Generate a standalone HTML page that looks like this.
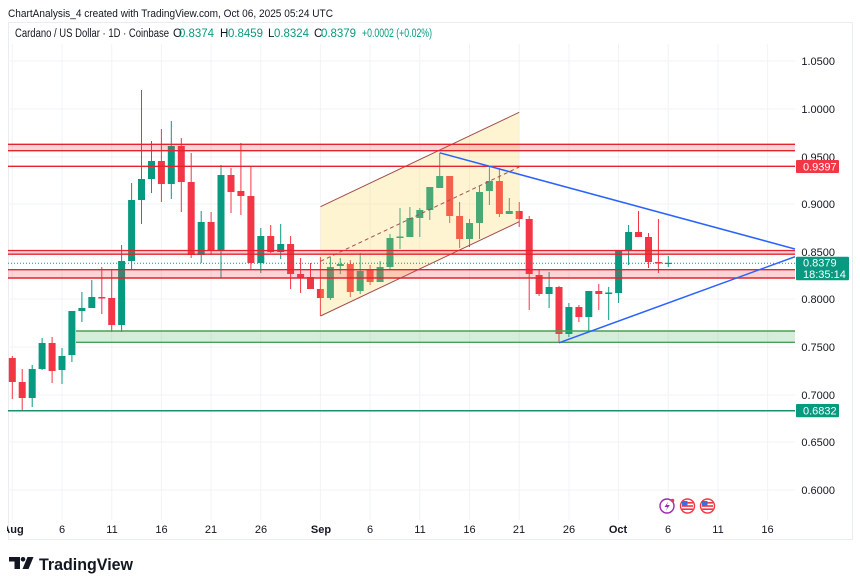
<!DOCTYPE html>
<html><head><meta charset="utf-8"><style>
html,body{margin:0;padding:0;background:#fff;}
svg{display:block;font-family:"Liberation Sans",Arial,sans-serif;}
.g path{stroke:#089981;stroke-width:1}
.g rect{fill:#089981}
.r path{stroke:#f23645;stroke-width:1}
.r rect{fill:#f23645}
.ax{font-size:11px;fill:#131722}
.tm{font-size:11px;fill:#131722;text-anchor:middle}
.tb{font-size:11px;fill:#131722;text-anchor:middle;font-weight:bold}
.h2{font-size:11.5px;fill:#131722}
.hv{font-size:11.5px;fill:#089981}
</style></head><body>
<svg width="860" height="587" viewBox="0 0 860 587" xmlns="http://www.w3.org/2000/svg">
<rect width="860" height="587" fill="#fff"/>
<defs><clipPath id="pane"><rect x="8" y="22" width="787" height="517"/></clipPath>
<clipPath id="tclip"><rect x="7" y="515" width="790" height="25"/></clipPath></defs>

<!-- header -->
<text x="8" y="17" font-size="11" fill="#131722" textLength="325" lengthAdjust="spacingAndGlyphs">ChartAnalysis_4 created with TradingView.com, Oct 06, 2025 05:24 UTC</text>
<rect x="8.5" y="22.5" width="844" height="517" fill="none" stroke="#e9ecf1" stroke-width="1"/>

<!-- grid -->
<g stroke="#f1f3f6" stroke-width="1">
<path d="M8 61H795M8 109H795M8 157H795M8 204H795M8 252H795M8 299H795M8 347H795M8 395H795M8 442H795M8 490H795"/>
<path d="M12.3 44V520M62 44V520M111.7 44V520M161.4 44V520M211.1 44V520M260.7 44V520M320.4 44V520M370.1 44V520M419.8 44V520M469.5 44V520M519.2 44V520M568.9 44V520M618.5 44V520M668.2 44V520M717.9 44V520M767.6 44V520"/>
</g>

<text class="h2" x="15" y="37" textLength="154" lengthAdjust="spacingAndGlyphs">Cardano / US Dollar · 1D · Coinbase</text>
<text class="h2" x="173" y="37">O</text>
<text class="hv" x="179" y="37" textLength="35" lengthAdjust="spacingAndGlyphs">0.8374</text>
<text class="h2" x="220" y="37">H</text>
<text class="hv" x="228" y="37" textLength="35" lengthAdjust="spacingAndGlyphs">0.8459</text>
<text class="h2" x="268" y="37">L</text>
<text class="hv" x="274" y="37" textLength="35" lengthAdjust="spacingAndGlyphs">0.8324</text>
<text class="h2" x="314" y="37">C</text>
<text class="hv" x="321" y="37" textLength="35" lengthAdjust="spacingAndGlyphs">0.8379</text>
<text class="hv" x="362" y="37" textLength="70" lengthAdjust="spacingAndGlyphs">+0.0002 (+0.02%)</text>

<g clip-path="url(#pane)">
<!-- candles -->
<g class="r"><path d="M12.3 356V399"/><rect x="8.8" y="358" width="7" height="24"/></g>
<g class="r"><path d="M22.2 369V410"/><rect x="18.7" y="382" width="7" height="16"/></g>
<g class="g"><path d="M32.2 365V407"/><rect x="28.7" y="369" width="7" height="29"/></g>
<g class="g"><path d="M42.1 338V370"/><rect x="38.6" y="343" width="7" height="26"/></g>
<g class="r"><path d="M52.1 337V383"/><rect x="48.6" y="343" width="7" height="28"/></g>
<g class="g"><path d="M62 348V384"/><rect x="58.5" y="356" width="7" height="14"/></g>
<g class="g"><path d="M71.9 311V362"/><rect x="68.4" y="311" width="7" height="44"/></g>
<g class="g"><path d="M81.9 292V322"/><rect x="78.4" y="308" width="7" height="3"/></g>
<g class="g"><path d="M91.8 280V308"/><rect x="88.3" y="297" width="7" height="11"/></g>
<g class="r"><path d="M101.8 267V314"/><rect x="98.3" y="297" width="7" height="1.5"/></g>
<g class="r"><path d="M111.7 269V332"/><rect x="108.2" y="298" width="7" height="27"/></g>
<g class="g"><path d="M121.6 245V332"/><rect x="118.1" y="261" width="7" height="64"/></g>
<g class="g"><path d="M131.6 183V269"/><rect x="128.1" y="200" width="7" height="61"/></g>
<g class="g"><path d="M141.5 90V224"/><rect x="138" y="179" width="7" height="21"/></g>
<g class="g"><path d="M151.5 141V193"/><rect x="148" y="161" width="7" height="18"/></g>
<g class="r"><path d="M161.4 129V202"/><rect x="157.9" y="161" width="7" height="23"/></g>
<g class="g"><path d="M171.3 121V199"/><rect x="167.8" y="146" width="7" height="38"/></g>
<g class="r"><path d="M181.3 138V212"/><rect x="177.8" y="146" width="7" height="36"/></g>
<g class="r"><path d="M191.2 153V258"/><rect x="187.7" y="182" width="7" height="73"/></g>
<g class="g"><path d="M201.2 211V263"/><rect x="197.7" y="222" width="7" height="33"/></g>
<g class="r"><path d="M211.1 212V255"/><rect x="207.6" y="222" width="7" height="28"/></g>
<g class="g"><path d="M221 165V278"/><rect x="217.5" y="175" width="7" height="75"/></g>
<g class="r"><path d="M231 168V213"/><rect x="227.5" y="175" width="7" height="17"/></g>
<g class="r"><path d="M240.9 143V215"/><rect x="237.4" y="191" width="7" height="5"/></g>
<g class="r"><path d="M250.9 167V270"/><rect x="247.4" y="196" width="7" height="67"/></g>
<g class="g"><path d="M260.8 228V273"/><rect x="257.3" y="236" width="7" height="27"/></g>
<g class="r"><path d="M270.7 225V253"/><rect x="267.2" y="236" width="7" height="16"/></g>
<g class="g"><path d="M280.7 224V259"/><rect x="277.2" y="244" width="7" height="8"/></g>
<g class="r"><path d="M290.6 236V289"/><rect x="287.1" y="244" width="7" height="30"/></g>
<g class="r"><path d="M300.6 258V293"/><rect x="297.1" y="274" width="7" height="4"/></g>
<g class="r"><path d="M310.5 263V289"/><rect x="307" y="277" width="7" height="12"/></g>
<g class="r"><path d="M320.4 257V316"/><rect x="316.9" y="289" width="7" height="9"/></g>
<g class="g"><path d="M330.4 257V300"/><rect x="326.9" y="267" width="7" height="31"/></g>
<g class="g"><path d="M340.3 258V274"/><rect x="336.8" y="264" width="7" height="2"/></g>
<g class="r"><path d="M350.3 260V297"/><rect x="346.8" y="264" width="7" height="28"/></g>
<g class="g"><path d="M360.2 253V294"/><rect x="356.7" y="271" width="7" height="20"/></g>
<g class="r"><path d="M370.1 265V285"/><rect x="366.6" y="270" width="7" height="12"/></g>
<g class="g"><path d="M380.1 261V282"/><rect x="376.6" y="267" width="7" height="15"/></g>
<g class="g"><path d="M390 234V270"/><rect x="386.5" y="238" width="7" height="29"/></g>
<g class="g"><path d="M400 208V249"/><rect x="396.5" y="236.5" width="7" height="1.5"/></g>
<g class="g"><path d="M409.9 207V237"/><rect x="406.4" y="218" width="7" height="19"/></g>
<g class="g"><path d="M419.8 208V237"/><rect x="416.3" y="210" width="7" height="8"/></g>
<g class="g"><path d="M429.8 187V220"/><rect x="426.3" y="187" width="7" height="23"/></g>
<g class="g"><path d="M439.7 153V188"/><rect x="436.2" y="176" width="7" height="12"/></g>
<g class="r"><path d="M449.7 176V223"/><rect x="446.2" y="176" width="7" height="40"/></g>
<g class="r"><path d="M459.6 202V248"/><rect x="456.1" y="216" width="7" height="23"/></g>
<g class="g"><path d="M469.5 219V247"/><rect x="466" y="223" width="7" height="16"/></g>
<g class="g"><path d="M479.5 186V239"/><rect x="476" y="192" width="7" height="31"/></g>
<g class="g"><path d="M489.4 167V205"/><rect x="485.9" y="181" width="7" height="10"/></g>
<g class="r"><path d="M499.4 168V217"/><rect x="495.9" y="181" width="7" height="33"/></g>
<g class="g"><path d="M509.3 198V214"/><rect x="505.8" y="211" width="7" height="3"/></g>
<g class="r"><path d="M519.2 202V227"/><rect x="515.7" y="211" width="7" height="8"/></g>
<g class="r"><path d="M529.2 216V310"/><rect x="525.7" y="219" width="7" height="55"/></g>
<g class="r"><path d="M539.1 270V296"/><rect x="535.6" y="275" width="7" height="19"/></g>
<g class="g"><path d="M549.1 272V308"/><rect x="545.6" y="287" width="7" height="7"/></g>
<g class="r"><path d="M559 286V343"/><rect x="555.5" y="287" width="7" height="47"/></g>
<g class="g"><path d="M568.9 303V337"/><rect x="565.4" y="307" width="7" height="27"/></g>
<g class="r"><path d="M578.9 305V322"/><rect x="575.4" y="307" width="7" height="10"/></g>
<g class="g"><path d="M588.8 291V332"/><rect x="585.3" y="291" width="7" height="26"/></g>
<g class="r"><path d="M598.8 284V310"/><rect x="595.3" y="291" width="7" height="3"/></g>
<g class="g"><path d="M608.7 287V320"/><rect x="605.2" y="292.5" width="7" height="1.5"/></g>
<g class="g"><path d="M618.6 251V303"/><rect x="615.1" y="251" width="7" height="42"/></g>
<g class="g"><path d="M628.6 225V265"/><rect x="625.1" y="232" width="7" height="19"/></g>
<g class="r"><path d="M638.5 211V237"/><rect x="635" y="232" width="7" height="5"/></g>
<g class="r"><path d="M648.5 233V268"/><rect x="645" y="237" width="7" height="25"/></g>
<g class="r"><path d="M658.4 219V273"/><rect x="654.9" y="262" width="7" height="1.5"/></g>
<g class="g"><path d="M668.3 256V267"/><rect x="664.8" y="262.8" width="7" height="1.2"/></g>

<!-- channel -->
<polygon points="320.5,206.7 519.2,112.3 519.2,221.7 320.5,316" fill="rgba(250,215,90,0.27)"/>
<path d="M320.5 206.7L519.2 112.3M320.5 316L519.2 221.7" stroke="#a24d4d" stroke-width="1" fill="none"/>
<path d="M320.5 261.3L519.2 167" stroke="#a24d4d" stroke-width="1" stroke-dasharray="4 3" fill="none"/>

<!-- red zones -->
<rect x="8" y="144" width="787" height="7" fill="rgba(242,54,69,0.22)"/>
<path d="M8 144.3H795M8 150.7H795" stroke="#e5232f" stroke-width="1.3"/>
<path d="M8 166.3H795" stroke="#e5232f" stroke-width="1.3"/>
<rect x="8" y="250.5" width="787" height="3.5" fill="rgba(242,54,69,0.22)"/>
<path d="M8 250.5H795M8 254.2H795" stroke="#e5232f" stroke-width="1.3"/>
<rect x="8" y="269.7" width="787" height="8.3" fill="rgba(242,54,69,0.22)"/>
<path d="M8 269.7H795M8 278H795" stroke="#e5232f" stroke-width="1.4"/>
<!-- current price dotted -->
<path d="M8 263.3H795" stroke="#089981" stroke-width="1" stroke-dasharray="1 2"/>
<!-- green zone -->
<rect x="76" y="331" width="719" height="11.3" fill="rgba(76,175,80,0.22)"/>
<path d="M76 331H795M76 342.3H795" stroke="#4a9f56" stroke-width="1.4"/>
<path d="M8 410.8H795" stroke="#1c8f70" stroke-width="1.5"/>

<!-- triangle -->
<path d="M439.7 152.8L795 249M559 342.8L795 256.7" stroke="#2962ff" stroke-width="1.5" fill="none"/>
</g>

<!-- price axis -->
<g class="ax" text-anchor="end">
<text x="835" y="65">1.0500</text>
<text x="835" y="113">1.0000</text>
<text x="835" y="161">0.9500</text>
<text x="835" y="208">0.9000</text>
<text x="835" y="256">0.8500</text>
<text x="835" y="303">0.8000</text>
<text x="835" y="351">0.7500</text>
<text x="835" y="399">0.7000</text>
<text x="835" y="446">0.6500</text>
<text x="835" y="494">0.6000</text>
</g>
<rect x="796" y="160" width="43" height="13" rx="1" fill="#f23645"/>
<text x="803" y="170.5" font-size="11" fill="#fff">0.9397</text>
<rect x="796" y="256.7" width="53" height="23.5" rx="1" fill="#089981"/>
<text x="803" y="266.5" font-size="11" fill="#fff">0.8379</text>
<text x="803" y="278" font-size="11" fill="#fff">18:35:14</text>
<rect x="796" y="404" width="43" height="13.3" rx="1" fill="#089981"/>
<text x="803" y="414.5" font-size="11" fill="#fff">0.6832</text>

<!-- events -->
<circle cx="667" cy="506" r="7" fill="#fff" stroke="#9c27b0" stroke-width="1.4"/>
<path d="M668.5 501.5L664.5 507H667.5L665.8 510.8L669.8 505H666.8Z" fill="#9c27b0"/>
<circle cx="672.5" cy="500.5" r="1.8" fill="#f23645"/>
<g>
<circle cx="687.5" cy="506" r="7" fill="#fff" stroke="#f23645" stroke-width="1.4"/>
<rect x="682" y="502" width="11" height="1.6" fill="#f23645"/><rect x="682" y="505.2" width="11" height="1.6" fill="#f23645"/><rect x="682" y="508.4" width="11" height="1.6" fill="#f23645"/>
<rect x="682" y="501" width="5.5" height="5" fill="#3d6fd8"/>
</g>
<g>
<circle cx="707.5" cy="506" r="7" fill="#fff" stroke="#f23645" stroke-width="1.4"/>
<rect x="702" y="502" width="11" height="1.6" fill="#f23645"/><rect x="702" y="505.2" width="11" height="1.6" fill="#f23645"/><rect x="702" y="508.4" width="11" height="1.6" fill="#f23645"/>
<rect x="702" y="501" width="5.5" height="5" fill="#3d6fd8"/>
</g>

<!-- time axis -->
<g clip-path="url(#tclip)">
<text class="tb" x="13" y="533">Aug</text>
<text class="tm" x="62" y="533">6</text>
<text class="tm" x="112" y="533">11</text>
<text class="tm" x="161.5" y="533">16</text>
<text class="tm" x="211" y="533">21</text>
<text class="tm" x="261" y="533">26</text>
<text class="tb" x="321" y="533">Sep</text>
<text class="tm" x="370" y="533">6</text>
<text class="tm" x="420" y="533">11</text>
<text class="tm" x="469.5" y="533">16</text>
<text class="tm" x="519" y="533">21</text>
<text class="tm" x="569" y="533">26</text>
<text class="tb" x="618" y="533">Oct</text>
<text class="tm" x="668" y="533">6</text>
<text class="tm" x="718" y="533">11</text>
<text class="tm" x="767.5" y="533">16</text>
</g>

<!-- logo -->
<g fill="#131722">
<path d="M9 557H20V569H14.5V561.5H9Z"/>
<circle cx="23" cy="559.3" r="2.3"/>
<path d="M27.5 557H33.5L28.5 569H22.5Z"/>
</g>
<text x="39" y="570" font-size="17" font-weight="bold" fill="#131722" textLength="94" lengthAdjust="spacingAndGlyphs">TradingView</text>
</svg>
</body></html>
